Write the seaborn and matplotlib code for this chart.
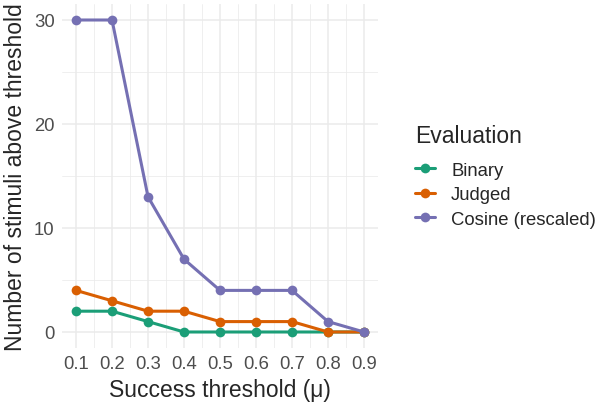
import matplotlib
matplotlib.use("Agg")
import matplotlib.pyplot as plt
import seaborn as sns
import pandas as pd
from matplotlib.ticker import MultipleLocator

thresholds = [0.1, 0.2, 0.3, 0.4, 0.5, 0.6, 0.7, 0.8, 0.9]
binary = [2, 2, 1, 0, 0, 0, 0, 0, 0]
judged = [4, 3, 2, 2, 1, 1, 1, 0, 0]
cosine = [30, 30, 13, 7, 4, 4, 4, 1, 0]
series_names = ["Binary", "Judged", "Cosine (rescaled)"]
colors = ["#1B9E77", "#D95F02", "#7570B3"]

df = pd.concat([
    pd.DataFrame({"mu": thresholds, "n": vals, "Evaluation": name})
    for name, vals in zip(series_names, [binary, judged, cosine])
])

sns.set_theme(style="white")
plt.rcParams["font.family"] = ["Liberation Sans", "DejaVu Sans"]

fig = plt.figure(figsize=(6, 4.06), dpi=100)
ax = fig.add_axes([0.1027, 0.1414, 0.528, 0.8453])

sns.lineplot(data=df, x="mu", y="n", hue="Evaluation", hue_order=series_names,
             palette=colors, marker="o", markersize=7, markeredgewidth=0,
             linewidth=2.2, ax=ax)

ax.set_xlim(0.06, 0.94)
ax.set_ylim(-1.5, 31.5)
ax.set_xticks(thresholds)
ax.set_xticklabels([f"{t:.1f}" for t in thresholds])
ax.set_yticks([0, 10, 20, 30])
ax.xaxis.set_minor_locator(MultipleLocator(0.05))
ax.yaxis.set_minor_locator(MultipleLocator(5))
ax.grid(which="major", color="#EBEBEB", linewidth=1.1)
ax.grid(which="minor", color="#EBEBEB", linewidth=0.55)
ax.set_axisbelow(True)
for s in ax.spines.values():
    s.set_visible(False)
ax.tick_params(which="both", length=0, labelsize=13.3, labelcolor="#4D4D4D", pad=5)

ax.set_xlabel("Success threshold (μ)", fontsize=16.5, labelpad=5)
ax.set_ylabel("Number of stimuli above threshold", fontsize=16.5, labelpad=5)

leg = ax.legend(title="Evaluation", loc="upper left",
                bbox_to_anchor=(415 / 600, 1 - 125 / 406),
                bbox_transform=fig.transFigure, borderpad=0, borderaxespad=0,
                frameon=False, fontsize=13.3, title_fontsize=16.5,
                handlelength=1.1, handletextpad=0.85, labelspacing=0.4)
leg._legend_box.align = "left"
leg._legend_box.sep = 10.7  # extra gap between title and keys

fig.savefig("out.png", dpi=100)
